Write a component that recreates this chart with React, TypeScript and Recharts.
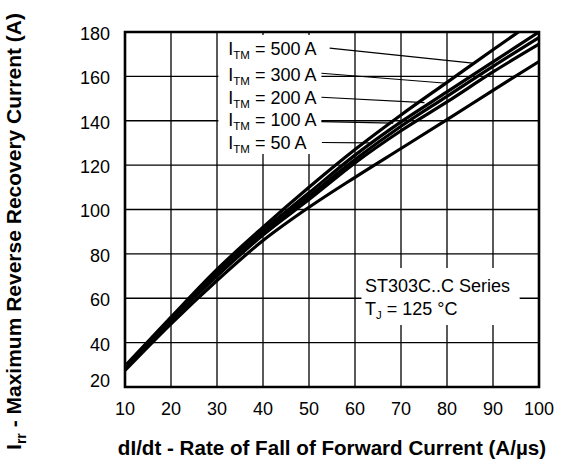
import React from 'react';
import {
  LineChart,
  Line,
  XAxis,
  YAxis,
  CartesianGrid,
  ReferenceArea,
  ReferenceLine,
} from 'recharts';

// dI/dt (A/µs)
const rates = [10, 20, 30, 40, 50, 60, 70, 80, 90, 100];
// Irr (A) for each I_TM
const irr500 = [29.5, 51.5, 73, 92, 110, 127, 142.6, 157.3, 172, 186.5];
const irr300 = [29, 51, 72, 90.5, 107.5, 124.5, 139.5, 153, 166.5, 180];
const irr200 = [28.5, 50.5, 71, 89.5, 106, 122.5, 137.5, 151, 164.5, 177.5];
const irr100 = [28, 50, 70, 88.5, 104.5, 121, 135.5, 148.5, 162, 174.5];
const irr50 = [27.5, 48.5, 68, 86, 101, 114.5, 127.5, 140.5, 153.7, 166.7];

const xTicks = [10, 20, 30, 40, 50, 60, 70, 80, 90, 100];
const yTicks = [20, 40, 60, 80, 100, 120, 140, 160, 180];

const currentLabels = ['500', '300', '200', '100', '50'];
const seriesKeys = ['i500', 'i300', 'i200', 'i100', 'i50'];

const data = rates.map((r, i) => ({
  rate: r,
  i500: irr500[i],
  i300: irr300[i],
  i200: irr200[i],
  i100: irr100[i],
  i50: irr50[i],
}));

// leader lines (data coordinates): label end -> curve
const leaders = [
  [{ x: 54.5, y: 172.7 }, { x: 85.6, y: 166.0 }],
  [{ x: 52.7, y: 161.4 }, { x: 79.9, y: 156.9 }],
  [{ x: 52.7, y: 150.6 }, { x: 75.1, y: 148.2 }],
  [{ x: 52.7, y: 139.6 }, { x: 68.3, y: 138.9 }],
  [{ x: 52.8, y: 130.2 }, { x: 63.2, y: 130.0 }],
];

const FONT = '"Liberation Sans", Arial, Helvetica, sans-serif';

const YTick = (props: any) => {
  const { x, y, payload } = props;
  const shift = payload.value === 20 ? -6 : 1.5;
  return (
    <text
      x={x}
      y={y + shift}
      dy="0.355em"
      textAnchor="end"
      fill="#000"
      fontSize={18}
      fontFamily={FONT}
    >
      {payload.value}
    </text>
  );
};

const labelBaselines = [54.7, 81.4, 103.7, 126.4, 148.9];

export default function App() {
  return (
    <div style={{ position: 'absolute', left: 0, top: 0, width: 564, height: 462, background: '#fff' }}>
      <LineChart
        width={564}
        height={462}
        data={data}
        margin={{ top: 32, right: 25, bottom: 45, left: 0 }}
      >
        <CartesianGrid stroke="#000" strokeWidth={1.3} />
        <XAxis
          dataKey="rate"
          type="number"
          domain={[10, 100]}
          ticks={xTicks}
          interval={0}
          height={30}
          tickLine={false}
          axisLine={false}
          tickSize={0}
          tickMargin={15}
          tick={{ fill: '#000', fontSize: 18, fontFamily: FONT }}
        />
        <YAxis
          type="number"
          domain={[20, 180]}
          ticks={yTicks}
          interval={0}
          allowDataOverflow
          width={125}
          tickLine={false}
          axisLine={false}
          tickSize={0}
          tickMargin={15}
          tick={<YTick />}
        />
        <ReferenceArea
          x1={30.3}
          x2={52.7}
          y1={125}
          y2={178.7}
          fill="#fff"
          fillOpacity={1}
          stroke="none"
          ifOverflow="visible"
        />
        <ReferenceArea
          x1={61.4}
          x2={95.8}
          y1={47.9}
          y2={73.6}
          fill="#fff"
          fillOpacity={1}
          stroke="none"
          ifOverflow="visible"
        />
        {seriesKeys.map((k) => (
          <Line
            key={k}
            dataKey={k}
            type="monotone"
            stroke="#000"
            strokeWidth={3.2}
            dot={false}
            activeDot={false}
            isAnimationActive={false}
          />
        ))}
        {leaders.map((seg, i) => (
          <ReferenceLine
            key={'l' + i}
            segment={seg}
            stroke="#000"
            strokeWidth={1.2}
            ifOverflow="visible"
          />
        ))}
        <ReferenceArea
          x1={10}
          x2={100}
          y1={20}
          y2={180}
          fill="none"
          stroke="#000"
          strokeWidth={2.6}
          ifOverflow="visible"
        />
      </LineChart>
      <svg
        width={564}
        height={462}
        style={{ position: 'absolute', left: 0, top: 0, pointerEvents: 'none' }}
        fontFamily={FONT}
      >
        {currentLabels.map((c, i) => (
          <text key={c} x={228.3} y={labelBaselines[i]} fontSize={18} fill="#000">
            I
            <tspan fontSize={11.5} dy={4}>TM</tspan>
            <tspan fontSize={18} dy={-4}>{` = ${c} A`}</tspan>
          </text>
        ))}
        <text x={365} y={291.7} fontSize={18} fill="#000">ST303C..C Series</text>
        <text x={365} y={315} fontSize={18} fill="#000">
          T<tspan fontSize={11.5} dy={4}>J</tspan>
          <tspan fontSize={18} dy={-4}>{' = 125 °C'}</tspan>
        </text>
        <text
          x={332}
          y={455}
          fontSize={20.6}
          fontWeight="bold"
          textAnchor="middle"
          fill="#000"
        >
          dI/dt - Rate of Fall of Forward Current (A/µs)
        </text>
        <text
          transform="translate(20.7,231.5) rotate(-90)"
          x={0}
          y={0}
          fontSize={21}
          fontWeight="bold"
          textAnchor="middle"
          fill="#000"
        >
          I<tspan fontSize={14} dy={5}>rr</tspan>
          <tspan fontSize={21} dy={-5}>{' - Maximum Reverse Recovery Current (A)'}</tspan>
        </text>
      </svg>
    </div>
  );
}
